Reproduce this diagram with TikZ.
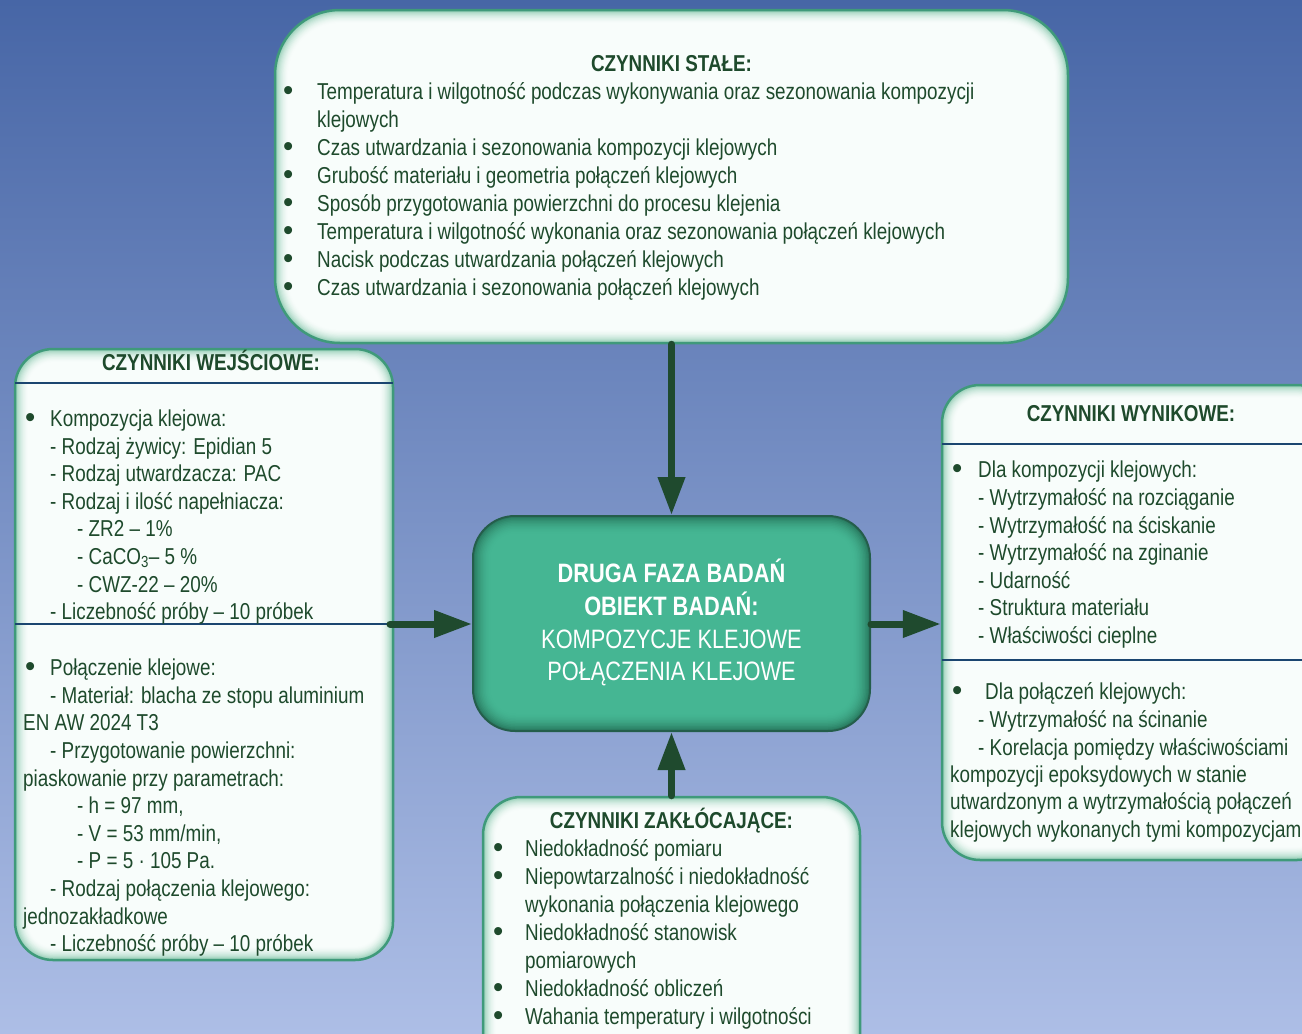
\documentclass[tikz,border=0pt]{standalone}
\usepackage{fontspec}
\setmainfont[FakeStretch=0.82]{Liberation Sans}
\usetikzlibrary{arrows.meta}
\definecolor{txtgreen}{HTML}{1E4A2C}
\definecolor{bordergreen}{HTML}{3F9A7A}
\definecolor{glowC}{HTML}{9ED2BC}
\definecolor{boxfill}{HTML}{F8FDFB}
\definecolor{ctrfill}{HTML}{45B693}
\definecolor{ctrC}{HTML}{2A7D62}
\definecolor{ctrborder}{HTML}{245E4B}
\definecolor{arrowgreen}{HTML}{1F4A2E}
\definecolor{sepblue}{HTML}{1B4670}
\definecolor{bgtop}{HTML}{4766A6}
\definecolor{bgbot}{HTML}{ADBEE6}
\newcommand\bodyfont{\fontsize{23}{28}\selectfont}
\newcommand\ctrfont{\fontsize{26.6}{32}\selectfont}
\newcommand\bul[1]{\makebox[#1pt][l]{\raisebox{-1.2pt}{\scalebox{1.55}[1.3]{•}}}}
\begin{document}
\begin{tikzpicture}[x=1pt,y=-1pt,
  factorbox/.style={rectangle, rounded corners=#1, draw=bordergreen, line width=2.5pt, fill=boxfill, inner sep=0pt,
    path picture={
      \foreach \i in {0,...,12}{
        \pgfmathsetmacro\lw{30-2.2*\i}
        \pgfmathtruncatemacro\pc{100*\i*\i/144}
        \draw[draw=glowC!\pc!boxfill, line width=\lw pt, rounded corners=#1] (path picture bounding box.north west) rectangle (path picture bounding box.south east);
      }
    }},
  ctrbox/.style={rectangle, rounded corners=#1, draw=ctrborder, line width=2pt, fill=ctrfill, inner sep=0pt,
    path picture={
      \foreach \i in {0,...,12}{
        \pgfmathsetmacro\lw{40-3*\i}
        \pgfmathtruncatemacro\pc{100*\i*\i/144}
        \draw[draw=ctrC!\pc!ctrfill, line width=\lw pt, rounded corners=#1] (path picture bounding box.north west) rectangle (path picture bounding box.south east);
      }
    }},
  tl/.style={anchor=base west, inner sep=0pt, text=txtgreen, font=\bodyfont},
  hd/.style={anchor=base, inner sep=0pt, text=txtgreen, font=\bodyfont\bfseries},
  ct/.style={anchor=base, inner sep=0pt, text=white, font=\ctrfont},
  conn/.style={draw=arrowgreen, line width=7pt, line cap=round, -{Triangle[length=38pt,width=26pt]}},
  sepline/.style={draw=sepblue, line width=2.5pt}
]
\useasboundingbox (0,0) rectangle (1302,1034);
\clip (0,0) rectangle (1302,1034);
\shade[top color=bgtop, bottom color=bgbot] (0,0) rectangle (1302,1034);

% boxes
\node[factorbox=65, minimum width=793pt, minimum height=333pt] (stale) at (671.5,176.5) {};
\node[factorbox=38, minimum width=378pt, minimum height=611pt] (wej) at (204,654.5) {};
\node[factorbox=38, minimum width=393pt, minimum height=475pt] (wyn) at (1138.5,622.5) {};
\node[factorbox=38, minimum width=377pt, minimum height=278pt] (zak) at (671.5,936) {};
\node[ctrbox=42, minimum width=397pt, minimum height=215pt] (ctr) at (671.5,623.5) {};

% separators
\draw[sepline] (15,383) -- (393,383);
\draw[sepline] (942,444) -- (1302,444);
\draw[sepline] (942,660) -- (1302,660);
\coordinate (lstart) at (390,624);
\draw[sepline] (15,624) -- (lstart);

% connectors
\draw[conn] (stale.south) -- (ctr.north);
\draw[conn] (lstart) -- (lstart -| ctr.west);
\draw[conn] (ctr.east |- lstart) -- (wyn.west |- lstart);
\draw[conn] (zak.north) -- (ctr.south);

% top box text
\node[hd] (th) at (671.5,71) {CZYNNIKI STAŁE:};
\node[tl] (t1) at (283,99) {\bul{34}Temperatura i wilgotność podczas wykonywania oraz sezonowania kompozycji};
\node[tl] (t1b) at (317,127) {klejowych};
\node[tl] (t2) at (283,155) {\bul{34}Czas utwardzania i sezonowania kompozycji klejowych};
\node[tl] (t3) at (283,183) {\bul{34}Grubość materiału i geometria połączeń klejowych};
\node[tl] (t4) at (283,211) {\bul{34}Sposób przygotowania powierzchni do procesu klejenia};
\node[tl] (t5) at (283,239) {\bul{34}Temperatura i wilgotność wykonania oraz sezonowania połączeń klejowych};
\node[tl] (t6) at (283,267) {\bul{34}Nacisk podczas utwardzania połączeń klejowych};
\node[tl] (t7) at (283,295) {\bul{34}Czas utwardzania i sezonowania połączeń klejowych};

% left box text
\node[hd] (lh) at (211,370) {CZYNNIKI WEJŚCIOWE:};
\node[tl] (l1) at (25,426) {\bul{25}Kompozycja klejowa:};
\node[tl] (l2) at (50,454) {- Rodzaj żywicy: Epidian 5};
\node[tl] (l3) at (50,481) {- Rodzaj utwardzacza: PAC};
\node[tl] (l4) at (50,509) {- Rodzaj i ilość napełniacza:};
\node[tl] (l5) at (77,536) {- ZR2 – 1\%};
\node[tl] (l6) at (77,564) {- CaCO\textsubscript{3}– 5 \%};
\node[tl] (l7) at (77,592) {- CWZ-22 – 20\%};
\node[tl] (l8) at (50,619) {- Liczebność próby – 10 próbek};
\node[tl] (l9) at (25,675) {\bul{25}Połączenie klejowe:};
\node[tl] (l10) at (50,703) {- Materiał: blacha ze stopu aluminium};
\node[tl] (l11) at (23,730) {EN AW 2024 T3};
\node[tl] (l12) at (50,758) {- Przygotowanie powierzchni:};
\node[tl] (l13) at (23,786) {piaskowanie przy parametrach:};
\node[tl] (l14) at (77,813) {- h = 97 mm,};
\node[tl] (l15) at (77,841) {- V = 53 mm/min,};
\node[tl] (l16) at (77,868) {- P = 5 · 105 Pa.};
\node[tl] (l17) at (50,896) {- Rodzaj połączenia klejowego:};
\node[tl] (l18) at (23,924) {jednozakładkowe};
\node[tl] (l19) at (50,951) {- Liczebność próby – 10 próbek};

% right box text
\node[hd] (rh) at (1131,421) {CZYNNIKI WYNIKOWE:};
\node[tl] (r1) at (952,477) {\bul{26}Dla kompozycji klejowych:};
\node[tl] (r2) at (978,505) {- Wytrzymałość na rozciąganie};
\node[tl] (r3) at (978,533) {- Wytrzymałość na ściskanie};
\node[tl] (r4) at (978,560) {- Wytrzymałość na zginanie};
\node[tl] (r5) at (978,588) {- Udarność};
\node[tl] (r6) at (978,615) {- Struktura materiału};
\node[tl] (r7) at (978,643) {- Właściwości cieplne};
\node[tl] (r8) at (952,699) {\bul{33}Dla połączeń klejowych:};
\node[tl] (r9) at (978,727) {- Wytrzymałość na ścinanie};
\node[tl] (r10) at (978,755) {- Korelacja pomiędzy właściwościami};
\node[tl] (r11) at (950,782) {kompozycji epoksydowych w stanie};
\node[tl] (r12) at (950,809) {utwardzonym a wytrzymałością połączeń};
\node[tl] (r13) at (950,837) {klejowych wykonanych tymi kompozycjami};

% bottom box text
\node[hd] (zh) at (671.5,828) {CZYNNIKI ZAKŁÓCAJĄCE:};
\node[tl] (z1) at (493,856) {\bul{32}Niedokładność pomiaru};
\node[tl] (z2) at (493,884) {\bul{32}Niepowtarzalność i niedokładność};
\node[tl] (z3) at (525,912) {wykonania połączenia klejowego};
\node[tl] (z4) at (493,940) {\bul{32}Niedokładność stanowisk};
\node[tl] (z5) at (525,968) {pomiarowych};
\node[tl] (z6) at (493,996) {\bul{32}Niedokładność obliczeń};
\node[tl] (z7) at (493,1024) {\bul{32}Wahania temperatury i wilgotności};

% centre text
\node[ct, font=\ctrfont\bfseries] (c1) at (671.5,582) {DRUGA FAZA BADAŃ};
\node[ct, font=\ctrfont\bfseries] (c2) at (671.5,615) {OBIEKT BADAŃ:};
\node[ct] (c3) at (671.5,648) {KOMPOZYCJE KLEJOWE};
\node[ct] (c4) at (671.5,680) {POŁĄCZENIA KLEJOWE};
\end{tikzpicture}
\end{document}
